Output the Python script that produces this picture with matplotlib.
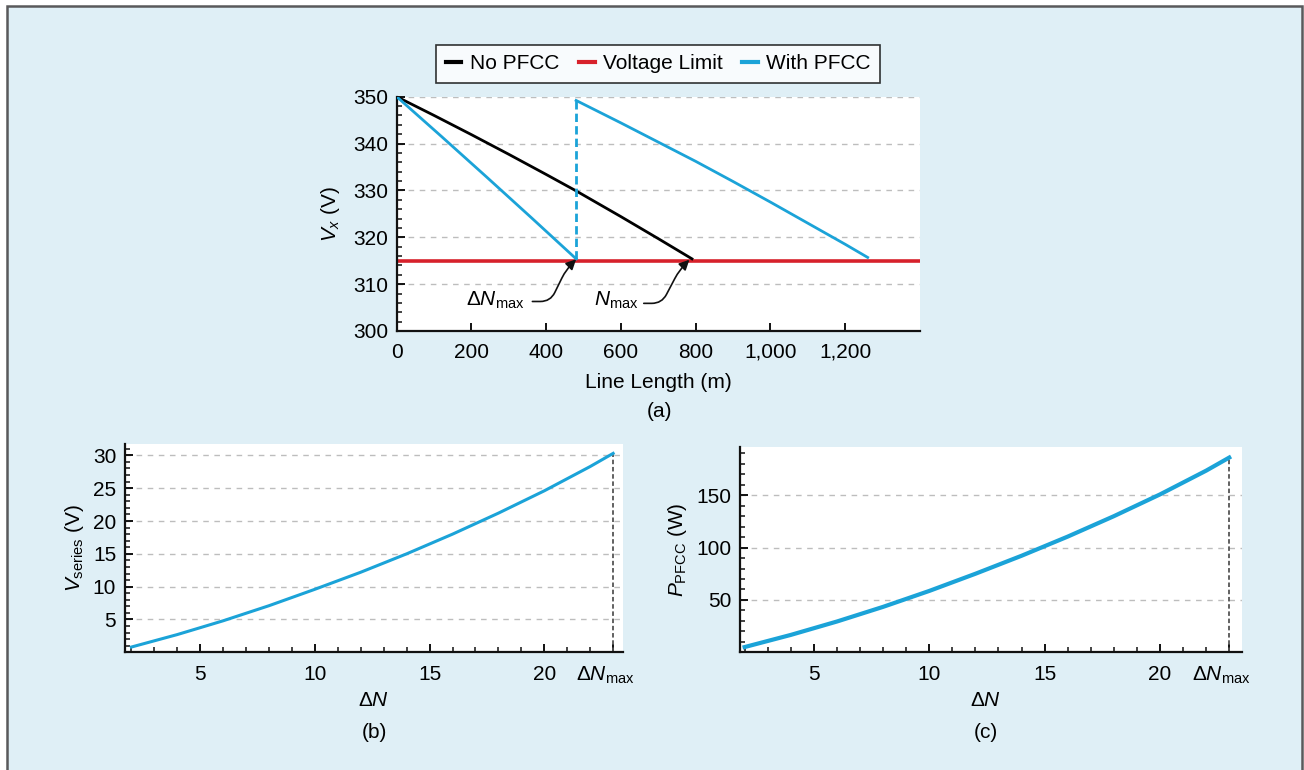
import matplotlib
matplotlib.use('Agg')
import matplotlib.pyplot as plt
from matplotlib.patches import Rectangle
from matplotlib.ticker import MultipleLocator, FixedLocator, NullLocator
from matplotlib.transforms import ScaledTranslation

plt.rcParams['font.family'] = ['Liberation Sans', 'DejaVu Sans']
plt.rcParams['mathtext.fontset'] = 'custom'
plt.rcParams['mathtext.rm'] = 'Liberation Sans'
plt.rcParams['mathtext.it'] = 'Liberation Sans:italic'
plt.rcParams['mathtext.bf'] = 'Liberation Sans:bold'
FS = 15
plt.rcParams['font.size'] = FS

# ---------------- data ----------------
# (a) voltage along the line
length_no_pfcc = [0, 100, 200, 300, 400, 480, 600, 700, 790]
v_no_pfcc = [350, 346.0, 341.9, 337.7, 333.4, 329.9, 324.4, 319.7, 315.4]

length_pfcc_1 = [0, 120, 240, 360, 480]
v_pfcc_1 = [350, 341.5, 332.9, 324.2, 315.4]
length_pfcc_2 = [480, 600, 700, 800, 900, 1000, 1100, 1200, 1260]
v_pfcc_2 = [349.2, 344.4, 340.3, 336.2, 331.9, 327.5, 323.0, 318.5, 315.7]

voltage_limit = 315
dn_max_length = 480
n_max_length = 783

x_ticks_a = [0, 200, 400, 600, 800, 1000, 1200]
x_ticklabels_a = ['0', '200', '400', '600', '800', '1,000', '1,200']
y_ticks_a = [300, 310, 320, 330, 340, 350]

# (b) and (c) vs. delta N
delta_n = [2, 4, 6, 8, 10, 12, 14, 16, 18, 20, 22, 23]
v_series = [0.8, 2.7, 4.8, 7.1, 9.6, 12.2, 15.0, 18.0, 21.2, 24.6, 28.3, 30.3]
p_pfcc = [5, 16.6, 29.4, 43.4, 58.6, 75.0, 92.2, 110.5, 130.0, 150.8, 173.5, 186]
delta_n_max = 23

x_ticks_bc = [5, 10, 15, 20, delta_n_max]
x_ticklabels_bc = ['5', '10', '15', '20', r'$\Delta N_{\rm max}$']
y_ticks_b = [5, 10, 15, 20, 25, 30]
y_ticks_c = [50, 100, 150]

# ---------------- style ----------------
BLUE = '#1BA3D8'
RED = '#D7212B'
BG = '#DFEFF6'
GRID = '#BDBDBD'

W, H = 1304, 770
DPI = 100
fig = plt.figure(figsize=(W / DPI, H / DPI), dpi=DPI, facecolor='white')

border = Rectangle((7 / W, -0.05), (1302 - 7) / W, 1.05 - 6 / H,
                   transform=fig.transFigure, facecolor=BG,
                   edgecolor='#59595B', linewidth=1.8, zorder=-5)
fig.add_artist(border)


def px_axes(left, top, right, bottom):
    return fig.add_axes([left / W, 1 - bottom / H,
                         (right - left) / W, (bottom - top) / H])


def style_axes(ax, xpad=7.5):
    ax.set_facecolor('white')
    for s in ('top', 'right'):
        ax.spines[s].set_visible(False)
    for s in ('left', 'bottom'):
        ax.spines[s].set_linewidth(1.6)
        ax.spines[s].set_color('#111111')
    ax.tick_params(which='major', direction='in', length=6, width=1.4,
                   color='#111111', labelsize=FS)
    ax.tick_params(which='minor', direction='in', length=3.5, width=1.1,
                   color='#111111')
    ax.tick_params(axis='x', which='major', pad=xpad)
    ax.tick_params(axis='y', which='major', pad=6)
    ax.yaxis.grid(True, which='major', linestyle=(0, (4, 4)),
                  color=GRID, linewidth=1.0)
    ax.set_axisbelow(True)


# ---------------- (a) ----------------
ax = px_axes(396.7, 96.7, 920, 331)
style_axes(ax, xpad=8.5)
ax.set_xlim(0, 1400)
ax.set_ylim(300, 350)
ax.xaxis.set_major_locator(FixedLocator(x_ticks_a))
ax.set_xticklabels(x_ticklabels_a)
ax.xaxis.set_minor_locator(NullLocator())
ax.yaxis.set_major_locator(FixedLocator(y_ticks_a))
ax.yaxis.set_minor_locator(MultipleLocator(2))

l_no, = ax.plot(length_no_pfcc, v_no_pfcc, color='black', lw=2.0,
                label='No PFCC', zorder=3)
l_lim = ax.axhline(voltage_limit, color=RED, lw=2.6, label='Voltage Limit',
                   zorder=2)
l_pf, = ax.plot(length_pfcc_1, v_pfcc_1, color=BLUE, lw=2.0,
                label='With PFCC', zorder=3)
ax.plot(length_pfcc_2, v_pfcc_2, color=BLUE, lw=2.0, zorder=3)
ax.plot([length_pfcc_1[-1], length_pfcc_2[0]], [v_pfcc_1[-1], v_pfcc_2[0]],
        color=BLUE, lw=2.0, linestyle=(0, (3, 1.5)), zorder=3)

leg = ax.legend(handles=[l_no, l_lim, l_pf], loc='lower center',
                bbox_to_anchor=(0.5, 1.0 + 14 / 234.3), ncol=3,
                frameon=True, fancybox=False, edgecolor='black',
                handlelength=0.75, handletextpad=0.4, columnspacing=0.95,
                borderpad=0.45, fontsize=FS, borderaxespad=0)
leg.get_frame().set_linewidth(1.2)
for h in leg.get_lines():
    h.set_linewidth(3.0)

ax.text(343, 305.4, r'$\Delta N_{\rm max}$', ha='right', va='baseline',
        fontsize=FS)
ax.text(648, 305.4, r'$N_{\rm max}$', ha='right', va='baseline', fontsize=FS)
arrow_kw = dict(arrowstyle='-|>', color='#111111', lw=1.2, shrinkA=0,
                shrinkB=0, mutation_scale=15)
conn = 'arc,angleA=0,armA=18,angleB=-135,armB=14,rad=10'
ax.annotate('', xy=(dn_max_length, voltage_limit + 0.3), xytext=(363, 306.3),
            arrowprops=dict(connectionstyle=conn, **arrow_kw))
ax.annotate('', xy=(n_max_length, voltage_limit + 0.2), xytext=(661, 305.9),
            arrowprops=dict(connectionstyle=conn, **arrow_kw))

ax.set_xlabel('Line Length (m)', fontsize=FS, va='center')
ax.xaxis.set_label_coords(0.5, -(382 - 331) / 234.3)
ax.set_ylabel(r'$V_x$ (V)', fontsize=FS, va='center')
ax.yaxis.set_label_coords((330.6 - 396.7) / 523.3, 0.5)
fig.text(659 / W, 1 - 412 / H, '(a)', ha='center', va='center', fontsize=FS)


def shift_last_label(axis_obj, dx_px):
    lab = axis_obj.xaxis.get_majorticklabels()[-1]
    lab.set_transform(lab.get_transform() +
                      ScaledTranslation(dx_px / DPI, 0, fig.dpi_scale_trans))


# ---------------- (b) ----------------
axb = px_axes(124.5, 444, 623, 652.3)
style_axes(axb, xpad=9)
axb.set_xlim(1.7, 23.43)
axb.set_ylim(0, 31.73)
axb.xaxis.set_major_locator(FixedLocator(x_ticks_bc))
axb.set_xticklabels(x_ticklabels_bc)
axb.xaxis.set_minor_locator(MultipleLocator(1))
axb.yaxis.set_major_locator(FixedLocator(y_ticks_b))
axb.yaxis.set_minor_locator(MultipleLocator(1))
axb.plot(delta_n, v_series, color=BLUE, lw=2.2, zorder=3)
axb.plot([delta_n_max, delta_n_max], [0, v_series[-1]], color='#555555',
         lw=1.3, linestyle=(0, (2.5, 1.5)), zorder=2)
axb.set_xlabel(r'$\Delta N$', fontsize=FS, va='center')
axb.xaxis.set_label_coords(0.5, -(701 - 652.3) / 208.3)
axb.set_ylabel(r'$V_{\rm series}$ (V)', fontsize=FS, va='center')
axb.yaxis.set_label_coords((74 - 124.5) / 498.5, 0.5)
fig.text(374 / W, 1 - 732 / H, '(b)', ha='center', va='center', fontsize=FS)
shift_last_label(axb, -8)

# ---------------- (c) ----------------
axc = px_axes(740, 447.3, 1241.7, 652.3)
style_axes(axc, xpad=9)
axc.set_xlim(1.8, 23.54)
axc.set_ylim(0, 195.8)
axc.xaxis.set_major_locator(FixedLocator(x_ticks_bc))
axc.set_xticklabels(x_ticklabels_bc)
axc.xaxis.set_minor_locator(MultipleLocator(1))
axc.yaxis.set_major_locator(FixedLocator(y_ticks_c))
axc.yaxis.set_minor_locator(MultipleLocator(10))
axc.plot(delta_n, p_pfcc, color=BLUE, lw=3.0, zorder=3)
axc.plot([delta_n_max, delta_n_max], [0, p_pfcc[-1]], color='#555555',
         lw=1.3, linestyle=(0, (2.5, 1.5)), zorder=2)
axc.set_xlabel(r'$\Delta N$', fontsize=FS, va='center')
axc.xaxis.set_label_coords((986 - 740) / 501.7, -(701 - 652.3) / 205)
axc.set_ylabel(r'$P_{\rm PFCC}$ (W)', fontsize=FS, va='center')
axc.yaxis.set_label_coords((677.7 - 740) / 501.7, 0.5)
fig.text(986 / W, 1 - 732 / H, '(c)', ha='center', va='center', fontsize=FS)
shift_last_label(axc, -8)

fig.savefig('out.png', dpi=DPI, facecolor='white')
